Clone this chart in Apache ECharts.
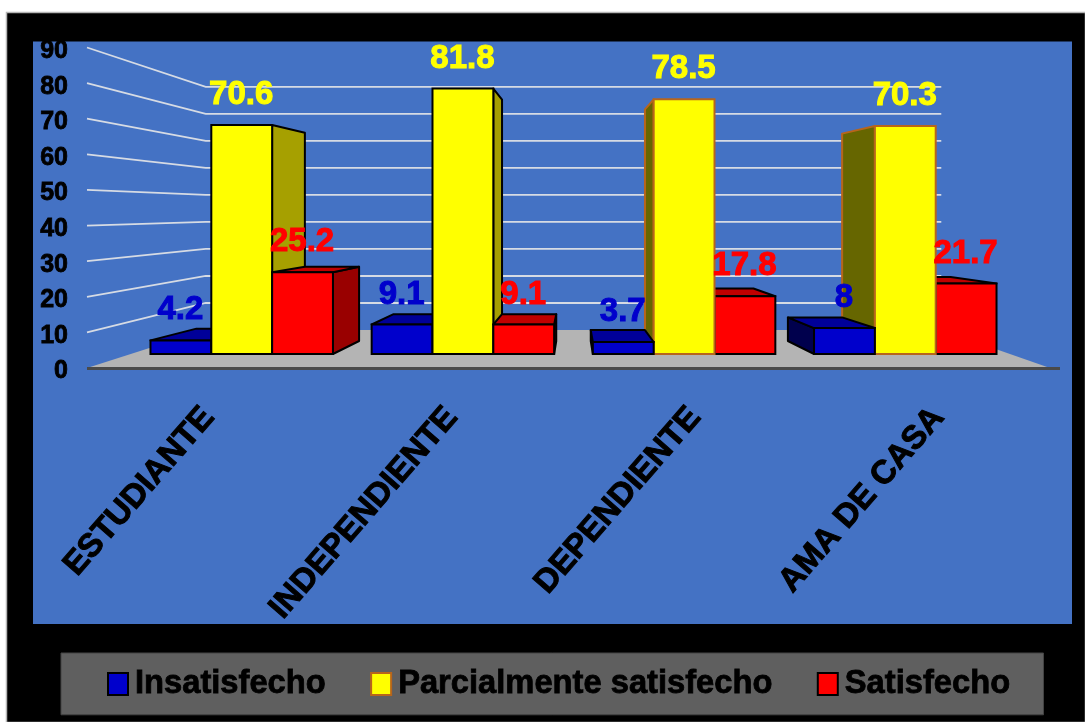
<!DOCTYPE html>
<html>
<head>
<meta charset="utf-8">
<style>html,body{margin:0;padding:0;background:#fff}#chart{width:1085px;height:722px}</style>
<script src="https://cdn.jsdelivr.net/npm/echarts@6/dist/echarts.min.js"></script>
</head>
<body>
<div id="chart"></div>
<script>
const categories = ['ESTUDIANTE', 'INDEPENDIENTE', 'DEPENDIENTE', 'AMA DE CASA'];
const insatisfecho = [4.2, 9.1, 3.7, 8];
const parcialmente = [70.6, 81.8, 78.5, 70.3];
const satisfecho = [25.2, 9.1, 17.8, 21.7];
const valueTicks = [0, 10, 20, 30, 40, 50, 60, 70, 80, 90];

// Oblique projection of the plot box. depth 0 is the front edge of the floor, depth 1 the back wall.
const BAR_FRONT = 0.368, BAR_BACK = 0.71, WALL_DEPTH = 1;
const FLOOR_SHIFT = 38 / 320.5;   // floor rise per unit depth, as a share of the axis height
const SCALE_LOSS = 0.2415;        // vertical shrink per unit depth
const X_FRONT = 0.9093;           // horizontal scale on the front faces of the bars
const X_BACK = 0.8105;            // horizontal scale on the back faces of the bars
const WALL_X = 0.756;             // horizontal scale of the back wall
const BAR_WIDTH = 0.275;          // bar width as a share of one category band
const FONT = '"Liberation Sans", Arial, sans-serif';

function projector(api, cs) {
  const cx = cs.x + cs.width / 2;
  const y0 = api.coord([0, 0])[1];
  const h = y0 - api.coord([0, 90])[1];
  const unit = h / 90;
  return {
    cx, y0, h, unit,
    y: (v, d) => y0 - d * FLOOR_SHIFT * h - v * unit * (1 - d * SCALE_LOSS),
    x: (px, s) => cx + (px - cx) * s
  };
}

function poly(points, fill, stroke, z2, lw) {
  return {
    type: 'polygon', z2,
    shape: { points },
    style: { fill, stroke, lineWidth: lw == null ? 2 : lw, lineJoin: 'round' }
  };
}

// Floor and wall gridlines, drawn once behind every bar
function renderRoom(params, api) {
  const cs = params.coordSys;
  const p = projector(api, cs);
  const left = cs.x, right = cs.x + cs.width - 10, lineEnd = cs.x + cs.width;
  const backL = p.x(cs.x, WALL_X), backR = p.x(cs.x + cs.width, WALL_X);
  const kids = [
    poly([[left, p.y0], [backL, p.y(0, WALL_DEPTH)], [backR, p.y(0, WALL_DEPTH)], [right, p.y0]], '#b4b4b4', 'none', 1, 0)
  ];
  valueTicks.slice(1).forEach(v => {
    kids.push({
      type: 'polyline', z2: 2,
      shape: { points: [[left, api.coord([0, v])[1]], [backL, p.y(v, WALL_DEPTH)], [backR, p.y(v, WALL_DEPTH)]] },
      style: { fill: 'none', stroke: '#d6dbe4', lineWidth: 1.8 }
    });
  });
  kids.push({
    type: 'line', z2: 3,
    shape: { x1: left, y1: p.y0 + 0.5, x2: lineEnd, y2: p.y0 + 0.5 },
    style: { stroke: '#4a4a4a', lineWidth: 3 }
  });
  return { type: 'group', children: kids };
}

// One box: visible side face, top, front, value label
function boxRenderer(slot, colors) {
  return function (params, api) {
    const cs = params.coordSys;
    const p = projector(api, cs);
    const cat = api.value(0), v = api.value(1);
    const band = api.size([1, 0])[0];
    const mid = api.coord([cat, 0])[0] + slot * BAR_WIDTH * band;
    const half = BAR_WIDTH * band / 2;
    const xl = mid - half, xr = mid + half;
    const fl = p.x(xl, X_FRONT), fr = p.x(xr, X_FRONT);
    const bl = p.x(xl, X_BACK), br = p.x(xr, X_BACK);
    const fTop = p.y(v, BAR_FRONT), fBase = p.y(0, BAR_FRONT);
    const bTop = p.y(v, BAR_BACK), bBase = p.y(0, BAR_BACK);
    const rightSideOfRoom = cat >= 2;
    // boxes farther from the viewer's side of the room are painted first
    const order = rightSideOfRoom ? 1 - slot : 1 + slot;
    const z = 10 + order * 10;
    const edge = rightSideOfRoom && slot === 0 ? '#b8651b' : '#000';
    const kids = [];
    if (rightSideOfRoom) {
      kids.push(poly([[fl, fTop], [bl, bTop], [bl, bBase], [fl, fBase]], colors.left, edge, z));
    } else {
      kids.push(poly([[fr, fTop], [br, bTop], [br, bBase], [fr, fBase]], colors.right, edge, z));
    }
    // the top face only shows on boxes lower than the eye line
    if (bTop < fTop) {
      kids.push(poly([[fl, fTop], [bl, bTop], [br, bTop], [fr, fTop]], colors.top, edge, z + 1));
    }
    kids.push({
      type: 'rect', z2: z + 2,
      shape: { x: fl, y: fTop, width: fr - fl, height: fBase - fTop },
      style: { fill: colors.front, stroke: edge, lineWidth: 2 }
    });
    kids.push({
      type: 'text', z2: 60,
      style: {
        x: (fl + fr) / 2 - 0.5, y: fTop - 30,
        text: String(v), fill: colors.label,
        stroke: colors.label, lineWidth: 1,
        font: 'bold 33px ' + FONT,
        align: 'center', verticalAlign: 'middle'
      }
    });
    return { type: 'group', children: kids };
  };
}

const blueFaces = { front: '#0000cc', top: '#000099', right: '#000099', left: '#00004d', label: '#0000cc' };
const yellowFaces = { front: '#ffff00', top: '#cccc00', right: '#a6a000', left: '#666600', label: '#ffff00' };
const redFaces = { front: '#ff0000', top: '#c00000', right: '#990000', left: '#990000', label: '#ff0000' };

function boxSeries(name, values, slot, faces, edge) {
  return {
    name, type: 'custom', coordinateSystem: 'cartesian2d',
    renderItem: boxRenderer(slot, faces),
    data: values.map((v, i) => [i, v]),
    encode: { x: 0, y: 1 },
    itemStyle: { color: faces.front, borderColor: edge, borderWidth: 3 },
    clip: false, silent: true
  };
}

const chart = echarts.init(document.getElementById('chart'), null, { renderer: 'canvas' });
chart.setOption({
  animation: false,
  backgroundColor: '#ffffff',
  graphic: [
    { type: 'rect', z: -20, shape: { x: 6.5, y: 12.5, width: 1079, height: 710 }, style: { fill: '#000', stroke: '#b5b5b5', lineWidth: 1.5 } },
    { type: 'rect', z: -19, shape: { x: 33, y: 41.5, width: 1039, height: 582.5 }, style: { fill: '#4472c4' } }
  ],
  grid: { left: 87, top: 47.5, width: 973, height: 320.5, containLabel: false },
  xAxis: {
    type: 'category', data: categories,
    axisLine: { show: false }, axisTick: { show: false }, splitLine: { show: false },
    axisLabel: {
      interval: 0, rotate: 49, margin: 44, color: '#000',
      textBorderColor: '#000', textBorderWidth: 1,
      fontFamily: FONT, fontWeight: 'bold', fontSize: 33
    }
  },
  yAxis: {
    type: 'value', min: 0, max: 90, interval: 10,
    axisLine: { show: false }, axisTick: { show: false }, splitLine: { show: false },
    axisLabel: {
      margin: 19, color: '#000', verticalAlign: 'top', lineHeight: 7,
      textBorderColor: '#000', textBorderWidth: 0.8,
      fontFamily: FONT, fontWeight: 'bold', fontSize: 25
    }
  },
  legend: {
    left: 61, top: 653, orient: 'horizontal',
    backgroundColor: '#5f5f5f', borderColor: '#444', borderWidth: 1,
    padding: [14, 33, 14, 46],
    itemWidth: 20, itemHeight: 22, itemGap: 44,
    textStyle: {
      color: '#000', textBorderColor: '#000', textBorderWidth: 0.8,
      fontFamily: FONT, fontWeight: 'bold', fontSize: 32.7, padding: [0, 0, 0, 2]
    },
    data: [
      { name: 'Insatisfecho', icon: 'rect' },
      { name: 'Parcialmente satisfecho', icon: 'rect' },
      { name: 'Satisfecho', icon: 'rect' }
    ]
  },
  series: [
    {
      type: 'custom', coordinateSystem: 'cartesian2d', renderItem: renderRoom,
      data: [[0, 0]], clip: false, silent: true, z: 1
    },
    boxSeries('Insatisfecho', insatisfecho, -1, blueFaces, '#000'),
    boxSeries('Parcialmente satisfecho', parcialmente, 0, yellowFaces, '#b8651b'),
    boxSeries('Satisfecho', satisfecho, 1, redFaces, '#000')
  ]
});
</script>
</body>
</html>
